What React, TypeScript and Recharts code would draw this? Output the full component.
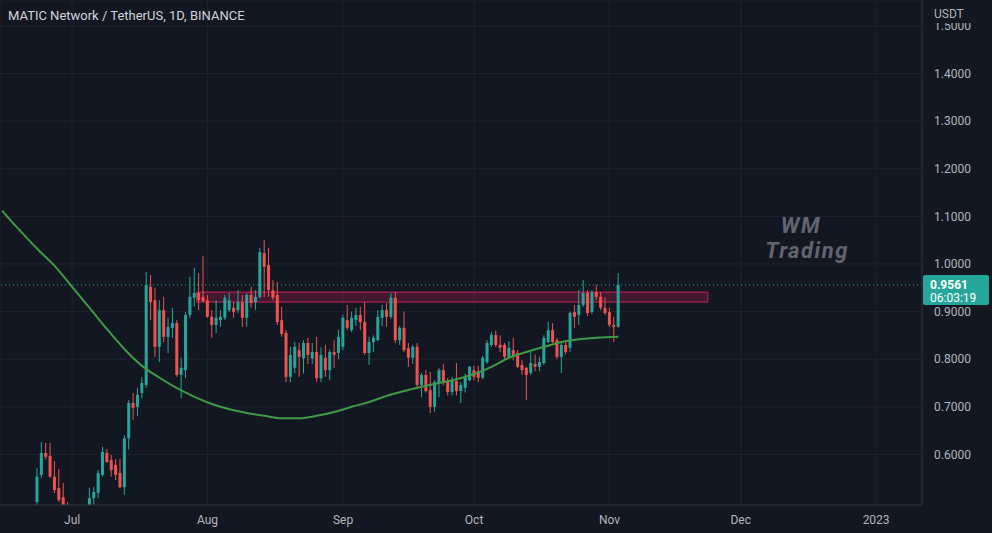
import {
  ComposedChart,
  Bar,
  Line,
  XAxis,
  YAxis,
  CartesianGrid,
  ReferenceArea,
  ReferenceLine,
} from 'recharts';

// day index: 0 = 1 Jul 2022
const firstDay = -16;
const lastDay = 194;

const candleDays = Array.from({ length: 134 }, (_, i) => i - 8);

const opens = [
  0.5, 0.557, 0.603, 0.597, 0.553, 0.529, 0.51, 0.49, 0.47, 0.452, 0.456, 0.462,
  0.49, 0.508, 0.519, 0.557, 0.603, 0.588, 0.578, 0.561, 0.531, 0.634, 0.708, 0.7,
  0.729, 0.746, 0.952, 0.924, 0.826, 0.903, 0.847, 0.866, 0.876, 0.767, 0.777, 0.893,
  0.929, 0.939, 0.931, 0.924, 0.889, 0.872, 0.882, 0.887, 0.903, 0.908, 0.903, 0.92,
  0.887, 0.935, 0.92, 0.931, 1.023, 0.998, 0.945, 0.935, 0.882, 0.855, 0.763, 0.782,
  0.819, 0.802, 0.834, 0.802, 0.815, 0.76, 0.803, 0.777, 0.815, 0.813, 0.826, 0.882,
  0.861, 0.882, 0.893, 0.878, 0.813, 0.836, 0.84, 0.887, 0.903, 0.889, 0.929, 0.84,
  0.866, 0.823, 0.803, 0.826, 0.746, 0.767, 0.735, 0.7, 0.75, 0.777, 0.752, 0.731,
  0.754, 0.733, 0.74, 0.756, 0.777, 0.775, 0.761, 0.794, 0.83, 0.851, 0.83, 0.83,
  0.805, 0.819, 0.813, 0.788, 0.782, 0.771, 0.79, 0.784, 0.792, 0.836, 0.861, 0.84,
  0.805, 0.83, 0.824, 0.899, 0.893, 0.914, 0.939, 0.899, 0.941, 0.931, 0.908, 0.899,
  0.872, 0.868,
];
const highs = [
  0.571, 0.626, 0.624, 0.624, 0.586, 0.569, 0.54, 0.5, 0.485, 0.47, 0.476, 0.492,
  0.53, 0.532, 0.567, 0.616, 0.611, 0.599, 0.59, 0.59, 0.64, 0.714, 0.729, 0.74,
  0.762, 0.983, 0.977, 0.95, 0.924, 0.931, 0.887, 0.908, 0.882, 0.803, 0.899, 0.973,
  0.992, 0.981, 1.017, 0.935, 0.903, 0.924, 0.903, 0.935, 0.939, 0.92, 0.945, 0.935,
  0.939, 0.952, 0.945, 1.034, 1.05, 1.034, 0.966, 0.962, 0.91, 0.861, 0.826, 0.836,
  0.834, 0.84, 0.845, 0.834, 0.847, 0.825, 0.83, 0.82, 0.84, 0.862, 0.893, 0.914,
  0.9, 0.908, 0.91, 0.92, 0.847, 0.85, 0.903, 0.914, 0.918, 0.939, 0.941, 0.87,
  0.9, 0.834, 0.83, 0.834, 0.771, 0.777, 0.773, 0.756, 0.782, 0.79, 0.76, 0.763,
  0.792, 0.752, 0.77, 0.786, 0.786, 0.786, 0.807, 0.84, 0.857, 0.86, 0.85, 0.834,
  0.838, 0.845, 0.819, 0.798, 0.784, 0.815, 0.81, 0.805, 0.85, 0.878, 0.876, 0.845,
  0.834, 0.84, 0.9, 0.914, 0.945, 0.966, 0.945, 0.945, 0.956, 0.941, 0.93, 0.908,
  0.889, 0.981,
];
const lows = [
  0.485, 0.55, 0.59, 0.551, 0.519, 0.5, 0.48, 0.455, 0.44, 0.44, 0.445, 0.455,
  0.48, 0.494, 0.508, 0.553, 0.582, 0.553, 0.546, 0.529, 0.515, 0.61, 0.672, 0.68,
  0.718, 0.74, 0.882, 0.805, 0.794, 0.836, 0.813, 0.845, 0.763, 0.718, 0.76, 0.887,
  0.91, 0.903, 0.92, 0.887, 0.845, 0.855, 0.868, 0.882, 0.899, 0.887, 0.897, 0.868,
  0.868, 0.908, 0.903, 0.928, 0.93, 0.931, 0.924, 0.872, 0.847, 0.752, 0.752, 0.771,
  0.763, 0.77, 0.79, 0.79, 0.752, 0.752, 0.763, 0.756, 0.782, 0.8, 0.819, 0.861,
  0.857, 0.87, 0.861, 0.809, 0.788, 0.815, 0.838, 0.87, 0.868, 0.885, 0.834, 0.83,
  0.815, 0.784, 0.79, 0.742, 0.72, 0.73, 0.687, 0.69, 0.72, 0.745, 0.724, 0.724,
  0.724, 0.708, 0.73, 0.754, 0.756, 0.752, 0.758, 0.79, 0.826, 0.826, 0.815, 0.798,
  0.8, 0.798, 0.782, 0.767, 0.714, 0.767, 0.775, 0.775, 0.788, 0.834, 0.834, 0.8,
  0.771, 0.81, 0.815, 0.866, 0.872, 0.91, 0.891, 0.895, 0.924, 0.903, 0.893, 0.868,
  0.836, 0.866,
];
const closes = [
  0.553, 0.603, 0.595, 0.553, 0.525, 0.504, 0.49, 0.47, 0.452, 0.456, 0.462, 0.49,
  0.508, 0.521, 0.561, 0.605, 0.584, 0.567, 0.557, 0.531, 0.634, 0.708, 0.698, 0.725,
  0.75, 0.956, 0.92, 0.826, 0.903, 0.847, 0.868, 0.876, 0.767, 0.782, 0.893, 0.931,
  0.939, 0.924, 0.922, 0.889, 0.872, 0.887, 0.889, 0.929, 0.924, 0.899, 0.92, 0.887,
  0.935, 0.918, 0.931, 1.025, 0.994, 0.945, 0.929, 0.878, 0.853, 0.763, 0.809, 0.826,
  0.805, 0.834, 0.809, 0.815, 0.76, 0.809, 0.777, 0.815, 0.809, 0.847, 0.887, 0.866,
  0.887, 0.893, 0.878, 0.813, 0.836, 0.845, 0.889, 0.903, 0.889, 0.929, 0.84, 0.866,
  0.819, 0.803, 0.826, 0.746, 0.767, 0.733, 0.7, 0.752, 0.777, 0.75, 0.731, 0.754,
  0.733, 0.746, 0.761, 0.784, 0.763, 0.761, 0.803, 0.834, 0.851, 0.83, 0.824, 0.805,
  0.824, 0.805, 0.784, 0.777, 0.767, 0.792, 0.784, 0.794, 0.845, 0.861, 0.836, 0.805,
  0.83, 0.815, 0.897, 0.889, 0.914, 0.939, 0.897, 0.941, 0.931, 0.908, 0.897, 0.872,
  0.868, 0.956,
];

// moving average
const maDays = [
  -16, -15, -12, -8, -4, 0, 4, 8, 12, 16, 20, 24, 28, 32, 36, 40, 44, 48, 52, 56, 60,
  64, 68, 72, 76, 80, 84, 88, 92, 96, 100, 104, 108, 112, 116, 120, 125,
];
const maValues = [
  1.112, 1.101, 1.071, 1.032, 0.996, 0.952, 0.908, 0.863, 0.821, 0.786, 0.761, 0.739,
  0.721, 0.706, 0.695, 0.687, 0.681, 0.676, 0.676, 0.681, 0.689, 0.7, 0.71, 0.723,
  0.733, 0.742, 0.75, 0.758, 0.769, 0.784, 0.803, 0.815, 0.826, 0.836, 0.842, 0.845,
  0.847,
];

const monthTicks = [0, 31, 62, 92, 123, 153, 184];
const monthLabels = ['Jul', 'Aug', 'Sep', 'Oct', 'Nov', 'Dec', '2023'];
const priceTicks = [0.6, 0.7, 0.8, 0.9, 1.0, 1.1, 1.2, 1.3, 1.4, 1.5];

const zoneDays = [29, 145];
const zonePrices = [0.92, 0.941];
const lastPrice = 0.9561;
const countdown = '06:03:19';

const UP = '#26a69a';
const DOWN = '#ef5350';
const BG = '#131722';
const FONT = 'Roboto, "Noto Sans", sans-serif';

const data = Array.from({ length: lastDay - firstDay + 1 }, (_, i) => {
  const day = firstDay + i;
  const ci = candleDays.indexOf(day);
  const mi = maDays.indexOf(day);
  return {
    day,
    open: ci >= 0 ? opens[ci] : null,
    high: ci >= 0 ? highs[ci] : null,
    low: ci >= 0 ? lows[ci] : null,
    close: ci >= 0 ? closes[ci] : null,
    ma: mi >= 0 ? maValues[mi] : null,
  };
});

const Candle = (props: any) => {
  const { x, y, width, height, payload } = props;
  if (payload == null || payload.open == null) return null;
  const { open, close, high, low } = payload;
  const color = close >= open ? UP : DOWN;
  const cx = x + width / 2;
  const top = Math.min(y, y + height);
  const h = Math.abs(height);
  const k = high - low > 0 ? h / (high - low) : 0;
  const yo = top + (high - open) * k;
  const yc = top + (high - close) * k;
  const bodyTop = Math.min(yo, yc);
  const bodyH = Math.max(1, Math.abs(yo - yc));
  return (
    <g>
      <line x1={cx} x2={cx} y1={top} y2={top + h} stroke={color} strokeWidth={1} />
      <rect x={cx - 1.5} y={bodyTop} width={3} height={bodyH} fill={color} />
    </g>
  );
};

const PriceTag = (props: any) => {
  const vb = props.viewBox || {};
  const x = (vb.x || 0) + (vb.width || 0);
  const y = vb.y || 0;
  return (
    <g>
      <rect x={x + 1} y={y - 10} width={66} height={30} rx={2} fill={UP} />
      <text x={x + 8} y={y + 4} fill="#ffffff" fontSize={12} fontWeight={700} fontFamily={FONT}>
        {lastPrice.toFixed(4)}
      </text>
      <text x={x + 8} y={y + 17} fill="#ffffff" fontSize={12} fontFamily={FONT}>
        {countdown}
      </text>
    </g>
  );
};

export default function App() {
  return (
    <div
      style={{
        position: 'absolute',
        left: 0,
        top: 0,
        width: 992,
        height: 533,
        background: BG,
        fontFamily: FONT,
        overflow: 'hidden',
      }}
    >
      <ComposedChart
        width={992}
        height={533}
        data={data}
        margin={{ top: 0, right: 0, bottom: 0, left: 0 }}
        barCategoryGap="0%"
      >
        <CartesianGrid stroke="#1f2330" strokeWidth={1} />
        <XAxis
          dataKey="day"
          type="category"
          ticks={monthTicks}
          interval={0}
          height={28}
          tickLine={false}
          tickMargin={4}
          axisLine={{ stroke: '#2a2e39' }}
          tick={{ fill: '#b2b5be', fontSize: 12, fontFamily: FONT }}
          tickFormatter={(v: number) => monthLabels[monthTicks.indexOf(v)] ?? ''}
        />
        <YAxis
          orientation="right"
          type="number"
          width={70}
          domain={[0.4937, 1.5546]}
          allowDataOverflow
          ticks={priceTicks}
          interval={0}
          tickLine={false}
          tickMargin={6}
          axisLine={{ stroke: '#2a2e39' }}
          tick={{ fill: '#b2b5be', fontSize: 12, fontFamily: FONT, textAnchor: 'start' }}
          tickFormatter={(v: number) => v.toFixed(4)}
        />
        <ReferenceArea
          x1={zoneDays[0]}
          x2={zoneDays[1]}
          y1={zonePrices[0]}
          y2={zonePrices[1]}
          fill="#e91e63"
          fillOpacity={0.22}
          stroke="#e91e63"
          strokeOpacity={0.85}
          strokeWidth={1}
        />
        <Bar
          dataKey={(d: any) => (d.open == null ? null : [d.low, d.high])}
          shape={Candle}
          isAnimationActive={false}
        />
        <Line
          dataKey="ma"
          type="monotone"
          stroke="#3f9a45"
          strokeWidth={2}
          dot={false}
          activeDot={false}
          connectNulls
          isAnimationActive={false}
        />
        <ReferenceLine
          y={lastPrice}
          stroke={UP}
          strokeDasharray="1 3"
          label={<PriceTag />}
        />
      </ComposedChart>
      <div
        style={{
          position: 'absolute',
          left: 8,
          top: 8,
          color: '#d1d4dc',
          fontSize: 13,
          lineHeight: '16px',
        }}
      >
        MATIC Network / TetherUS, 1D, BINANCE
      </div>
      <div
        style={{
          position: 'absolute',
          left: 923,
          top: 0,
          width: 69,
          height: 23,
          background: BG,
          color: '#b2b5be',
          fontSize: 12,
          lineHeight: '12px',
          paddingTop: 8,
          paddingLeft: 11,
          boxSizing: 'border-box',
        }}
      >
        USDT
      </div>
      <div
        style={{
          position: 'absolute',
          left: 752,
          top: 213,
          width: 110,
          color: '#62656f',
          fontSize: 22,
          fontWeight: 700,
          fontStyle: 'italic',
          letterSpacing: 1.5,
          lineHeight: '25px',
          textAlign: 'center',
        }}
      >
        <div style={{ paddingRight: 12 }}>WM</div>
        <div>Trading</div>
      </div>
    </div>
  );
}
